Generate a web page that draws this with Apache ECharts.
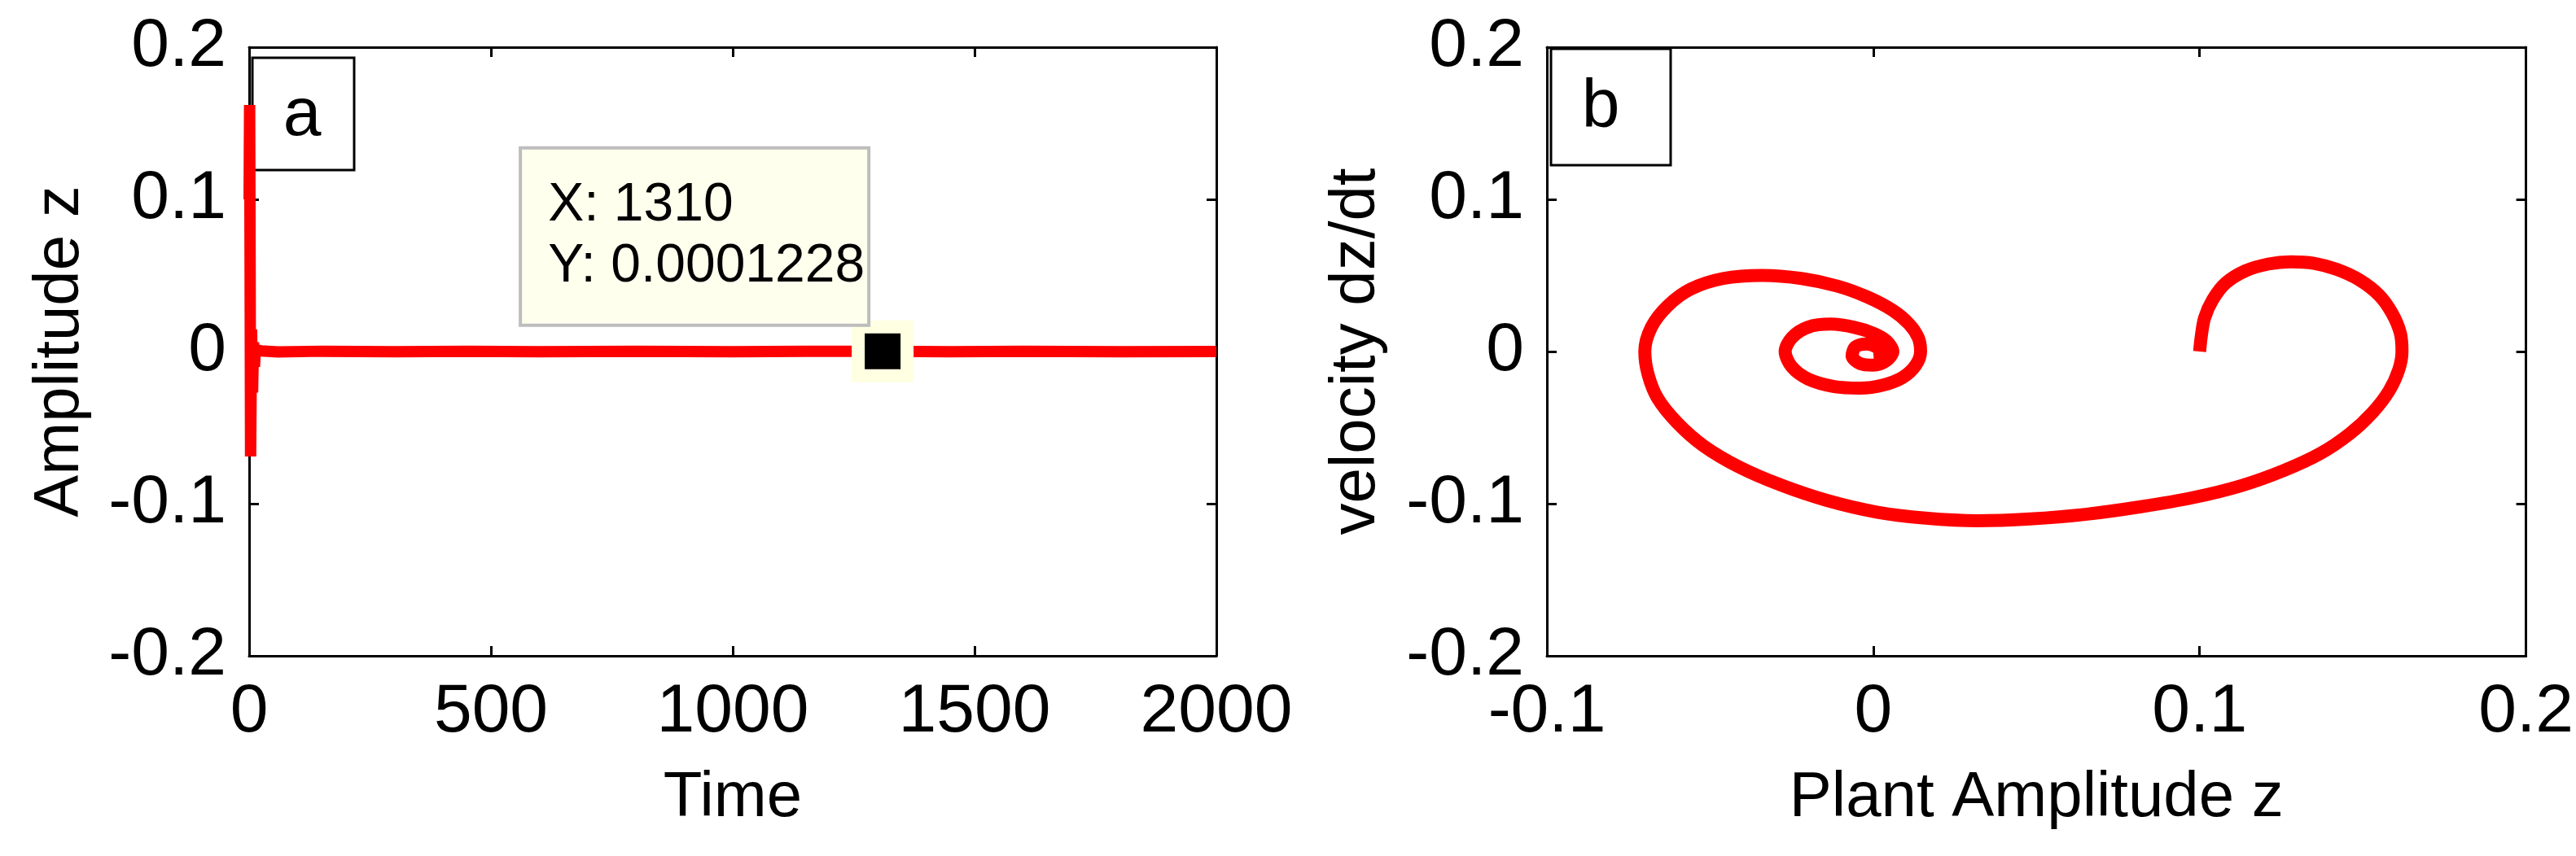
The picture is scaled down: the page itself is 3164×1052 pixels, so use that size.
<!DOCTYPE html>
<html>
<head>
<meta charset="utf-8">
<script src="https://cdn.jsdelivr.net/npm/echarts@6/dist/echarts.min.js"></script>
<style>
  html, body { margin: 0; padding: 0; background: #fff; }
  #chart { width: 3164px; height: 1052px; }
</style>
</head>
<body>
<div id="chart"></div>
<script>
// panel a: time response
const timeT = [0, 1, 2, 3, 5, 7, 9, 11, 13, 15, 18, 25, 60, 150, 300, 450, 600, 800, 1000, 1150, 1310, 1450, 1600, 1800, 2000];
const ampZ = [0.1, 0.162, 0.06, -0.069, 0.0145, -0.027, 0.006, -0.01, 0.003, -0.002, 0.0008, 0.0004, -0.0003, 0.0002, -0.0002, 0.0002, -0.0001, 0.0002, -0.0002, 0.0001, 0.0001228, -0.0001, 0.0001, -0.0001, 0];

// data tip
const tipT = 1310;
const tipZ = 0.0001228;

// panel b: phase portrait (z, dz/dt)
const phaseZ = [0.100, 0.1005, 0.1015, 0.104, 0.108, 0.114, 0.121, 0.128, 0.135, 0.142, 0.149, 0.155, 0.159, 0.1615, 0.162,
  0.161, 0.158, 0.153, 0.146, 0.137, 0.126, 0.113, 0.098, 0.082, 0.065, 0.048, 0.032, 0.016, 0.001, -0.014,
  -0.028, -0.041, -0.052, -0.060, -0.066, -0.069, -0.070, -0.068, -0.063, -0.056, -0.046, -0.034, -0.022, -0.011, -0.002,
  0.006, 0.011, 0.0138, 0.0145, 0.013, 0.009, 0.003, -0.004, -0.012, -0.020, -0.025, -0.027, -0.025, -0.020, -0.013,
  -0.006, 0.000, 0.004, 0.006, 0.004, 0.000, -0.004, -0.0065, -0.0055, -0.002, 0.001, 0.002, 0.000];
const phaseV = [0.000, 0.010, 0.022, 0.034, 0.045, 0.053, 0.0575, 0.059, 0.058, 0.054, 0.047, 0.037, 0.025, 0.012, 0.000,
  -0.012, -0.026, -0.040, -0.054, -0.067, -0.078, -0.088, -0.096, -0.102, -0.107, -0.110, -0.1112, -0.1095, -0.1055, -0.098,
  -0.088, -0.076, -0.062, -0.047, -0.031, -0.015, 0.000, 0.016, 0.030, 0.041, 0.048, 0.050, 0.048, 0.043, 0.036,
  0.027, 0.018, 0.009, 0.000, -0.009, -0.017, -0.022, -0.024, -0.023, -0.018, -0.010, 0.000, 0.009, 0.016, 0.018,
  0.016, 0.012, 0.007, 0.000, -0.006, -0.009, -0.008, -0.003, 0.003, 0.005, 0.003, 0.000, -0.001];

// [min, max, interval]
const xTicksA = [0, 2000, 500];
const yTicks = [-0.2, 0.2, 0.1];
const xTicksB = [-0.1, 0.2, 0.1];

const font = '"Liberation Sans", Arial, sans-serif';
const fmt = v => String(Math.round(v * 1000) / 1000);

function mainAxis(pos, ticks, gridIndex, name, nameGap) {
  return {
    type: 'value', gridIndex: gridIndex, position: pos,
    min: ticks[0], max: ticks[1], interval: ticks[2],
    name: name, nameLocation: 'middle', nameGap: nameGap,
    nameTextStyle: { fontSize: 78, color: '#000', fontFamily: font },
    axisLine: { show: true, onZero: false, lineStyle: { color: '#000', width: 3 } },
    axisTick: { show: true, inside: true, length: 12, lineStyle: { color: '#000', width: 3 } },
    axisLabel: { show: true, fontSize: 84, color: '#000', fontFamily: font, margin: 28, formatter: fmt },
    splitLine: { show: false }
  };
}
function sideAxis(pos, ticks, gridIndex) {
  return {
    type: 'value', gridIndex: gridIndex, position: pos,
    min: ticks[0], max: ticks[1], interval: ticks[2],
    axisLine: { show: true, onZero: false, lineStyle: { color: '#000', width: 3 } },
    axisTick: { show: true, inside: true, length: 12, lineStyle: { color: '#000', width: 3 } },
    axisLabel: { show: false },
    splitLine: { show: false }
  };
}

const chart = echarts.init(document.getElementById('chart'));
chart.setOption({
  animation: false,
  backgroundColor: '#fff',
  grid: [
    { left: 306, top: 58, width: 1188, height: 748 },
    { left: 1900, top: 58, width: 1219, height: 748 }
  ],
  xAxis: [
    mainAxis('bottom', xTicksA, 0, 'Time', 136),
    sideAxis('top', xTicksA, 0),
    mainAxis('bottom', xTicksB, 1, 'Plant Amplitude z', 136),
    sideAxis('top', xTicksB, 1)
  ],
  yAxis: [
    mainAxis('left', yTicks, 0, 'Amplitude z', 193),
    sideAxis('right', yTicks, 0),
    mainAxis('left', yTicks, 1, 'velocity dz/dt', 195),
    sideAxis('right', yTicks, 1)
  ],
  graphic: [
    { type: 'rect', shape: { x: 310, y: 71, width: 125, height: 138 }, style: { fill: 'none', stroke: '#000', lineWidth: 3 }, z: 1 },
    { type: 'text', style: { text: 'a', x: 371, y: 143, font: '84px ' + font, fill: '#000', textAlign: 'center', textVerticalAlign: 'middle' } },
    { type: 'rect', shape: { x: 1905, y: 60, width: 147, height: 143 }, style: { fill: 'none', stroke: '#000', lineWidth: 3 }, z: 1 },
    { type: 'text', style: { text: 'b', x: 1966, y: 133, font: '84px ' + font, fill: '#000', textAlign: 'center', textVerticalAlign: 'middle' } }
  ],
  series: [
    {
      type: 'line', xAxisIndex: 0, yAxisIndex: 0,
      data: timeT.map((t, i) => [t, ampZ[i]]),
      showSymbol: false, symbol: 'none',
      lineStyle: { color: '#ff0000', width: 14 }
    },
    {
      type: 'scatter', xAxisIndex: 0, yAxisIndex: 0, z: 5,
      data: [[tipT, tipZ]],
      symbol: 'rect', symbolSize: 60,
      itemStyle: { color: '#000', borderColor: '#ffffe2', borderWidth: 16, opacity: 1 },
      label: {
        show: true,
        position: [-405, -210],
        align: 'left', verticalAlign: 'top',
        formatter: p => 'X: ' + p.value[0] + '\nY: ' + p.value[1],
        fontSize: 66, lineHeight: 75, color: '#000', fontFamily: font,
        backgroundColor: '#ffffee', borderColor: '#bdbdbd', borderWidth: 4,
        padding: [32, 20, 32, 32], width: 372, height: 150
      }
    },
    {
      type: 'line', xAxisIndex: 2, yAxisIndex: 2,
      data: phaseZ.map((z, i) => [z, phaseV[i]]),
      showSymbol: false, symbol: 'none', smooth: 0.3,
      lineStyle: { color: '#ff0000', width: 16, join: 'round', cap: 'butt' }
    }
  ]
});
</script>
</body>
</html>
